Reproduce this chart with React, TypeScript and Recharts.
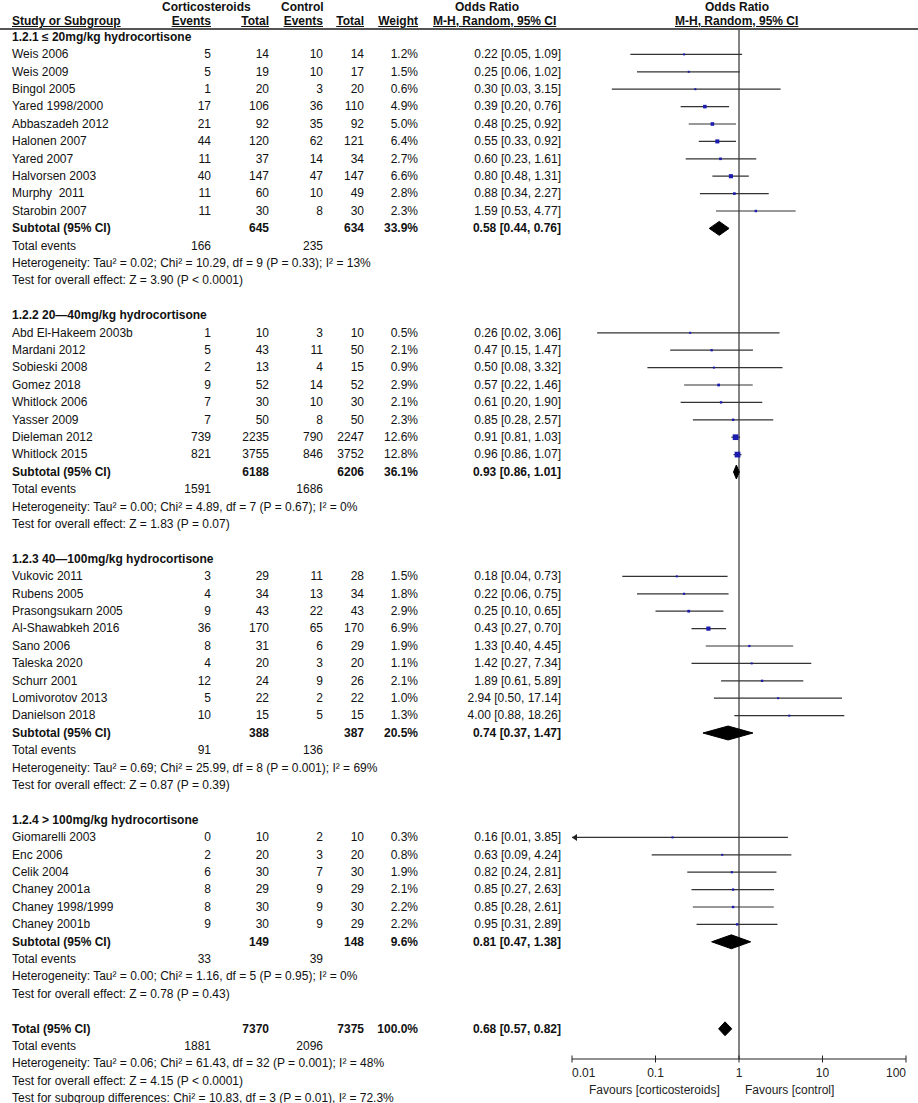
import React from 'react';
import { ComposedChart, Scatter, XAxis, YAxis, ErrorBar, ReferenceLine } from 'recharts';

const FONT = '"Liberation Sans", Arial, Helvetica, sans-serif';

// ---------- data ----------
const subgroupTitles = [
  '1.2.1 ≤ 20mg/kg hydrocortisone',
  '1.2.2 20—40mg/kg hydrocortisone',
  '1.2.3 40—100mg/kg hydrocortisone',
  '1.2.4 > 100mg/kg hydrocortisone',
];

const studyNames = [
  'Weis 2006', 'Weis 2009', 'Bingol 2005', 'Yared 1998/2000', 'Abbaszadeh 2012', 'Halonen 2007', 'Yared 2007', 'Halvorsen 2003', 'Murphy  2011', 'Starobin 2007',
  'Abd El-Hakeem 2003b', 'Mardani 2012', 'Sobieski 2008', 'Gomez 2018', 'Whitlock 2006', 'Yasser 2009', 'Dieleman 2012', 'Whitlock 2015',
  'Vukovic 2011', 'Rubens 2005', 'Prasongsukarn 2005', 'Al-Shawabkeh 2016', 'Sano 2006', 'Taleska 2020', 'Schurr 2001', 'Lomivorotov 2013', 'Danielson 2018',
  'Giomarelli 2003', 'Enc 2006', 'Celik 2004', 'Chaney 2001a', 'Chaney 1998/1999', 'Chaney 2001b',
];
const studyGroup = [
  0, 0, 0, 0, 0, 0, 0, 0, 0, 0,
  1, 1, 1, 1, 1, 1, 1, 1,
  2, 2, 2, 2, 2, 2, 2, 2, 2,
  3, 3, 3, 3, 3, 3,
];
const corticoEvents = [5, 5, 1, 17, 21, 44, 11, 40, 11, 11, 1, 5, 2, 9, 7, 7, 739, 821, 3, 4, 9, 36, 8, 4, 12, 5, 10, 0, 2, 6, 8, 8, 9];
const corticoTotals = [14, 19, 20, 106, 92, 120, 37, 147, 60, 30, 10, 43, 13, 52, 30, 50, 2235, 3755, 29, 34, 43, 170, 31, 20, 24, 22, 15, 10, 20, 30, 29, 30, 30];
const controlEvents = [10, 10, 3, 36, 35, 62, 14, 47, 10, 8, 3, 11, 4, 14, 10, 8, 790, 846, 11, 13, 22, 65, 6, 3, 9, 2, 5, 2, 3, 7, 9, 9, 9];
const controlTotals = [14, 17, 20, 110, 92, 121, 34, 147, 49, 30, 10, 50, 15, 52, 30, 50, 2247, 3752, 28, 34, 43, 170, 29, 20, 26, 22, 15, 10, 20, 30, 29, 30, 29];
const weights = [1.2, 1.5, 0.6, 4.9, 5.0, 6.4, 2.7, 6.6, 2.8, 2.3, 0.5, 2.1, 0.9, 2.9, 2.1, 2.3, 12.6, 12.8, 1.5, 1.8, 2.9, 6.9, 1.9, 1.1, 2.1, 1.0, 1.3, 0.3, 0.8, 1.9, 2.1, 2.2, 2.2];
const oddsRatios = [0.22, 0.25, 0.30, 0.39, 0.48, 0.55, 0.60, 0.80, 0.88, 1.59, 0.26, 0.47, 0.50, 0.57, 0.61, 0.85, 0.91, 0.96, 0.18, 0.22, 0.25, 0.43, 1.33, 1.42, 1.89, 2.94, 4.00, 0.16, 0.63, 0.82, 0.85, 0.85, 0.95];
const ciLower = [0.05, 0.06, 0.03, 0.20, 0.25, 0.33, 0.23, 0.48, 0.34, 0.53, 0.02, 0.15, 0.08, 0.22, 0.20, 0.28, 0.81, 0.86, 0.04, 0.06, 0.10, 0.27, 0.40, 0.27, 0.61, 0.50, 0.88, 0.01, 0.09, 0.24, 0.27, 0.28, 0.31];
const ciUpper = [1.09, 1.02, 3.15, 0.76, 0.92, 0.92, 1.61, 1.31, 2.27, 4.77, 3.06, 1.47, 3.32, 1.46, 1.90, 2.57, 1.03, 1.07, 0.73, 0.75, 0.65, 0.70, 4.45, 7.34, 5.89, 17.14, 18.26, 3.85, 4.24, 2.81, 2.63, 2.61, 2.89];

const subCorticoTotals = [645, 6188, 388, 149];
const subControlTotals = [634, 6206, 387, 148];
const subWeights = [33.9, 36.1, 20.5, 9.6];
const subOddsRatios = [0.58, 0.93, 0.74, 0.81];
const subLower = [0.44, 0.86, 0.37, 0.47];
const subUpper = [0.76, 1.01, 1.47, 1.38];
const subCorticoEvents = [166, 1591, 91, 33];
const subControlEvents = [235, 1686, 136, 39];
const subHeterogeneity = [
  'Heterogeneity: Tau² = 0.02; Chi² = 10.29, df = 9 (P = 0.33); I² = 13%',
  'Heterogeneity: Tau² = 0.00; Chi² = 4.89, df = 7 (P = 0.67); I² = 0%',
  'Heterogeneity: Tau² = 0.69; Chi² = 25.99, df = 8 (P = 0.001); I² = 69%',
  'Heterogeneity: Tau² = 0.00; Chi² = 1.16, df = 5 (P = 0.95); I² = 0%',
];
const subOverallTests = [
  'Test for overall effect: Z = 3.90 (P < 0.0001)',
  'Test for overall effect: Z = 1.83 (P = 0.07)',
  'Test for overall effect: Z = 0.87 (P = 0.39)',
  'Test for overall effect: Z = 0.78 (P = 0.43)',
];

const totalCortico = 7370;
const totalControl = 7375;
const totalWeight = 100.0;
const totalOR = [0.68, 0.57, 0.82];
const totalEvents = [1881, 2096];
const totalFootnotes = [
  'Heterogeneity: Tau² = 0.06; Chi² = 61.43, df = 32 (P = 0.001); I² = 48%',
  'Test for overall effect: Z = 4.15 (P < 0.0001)',
  'Test for subgroup differences: Chi² = 10.83, df = 3 (P = 0.01), I² = 72.3%',
];

const axisTicks = [0.01, 0.1, 1, 10, 100];
const favoursLabels = ['Favours [corticosteroids]', 'Favours [control]'];

// ---------- layout ----------
const W = 918;
const H = 1103;
const ROW_H = 17.4;
const ROW0_Y = 37;
const PLOT_TOP = 28;
const PLOT_BOTTOM = 1059;
const PLOT_LEFT = 572;
const PLOT_RIGHT = 906;
const Y_DOMAIN: [number, number] = [(PLOT_TOP - ROW0_Y) / ROW_H, (PLOT_BOTTOM - ROW0_Y) / ROW_H];
const AXIS_MIN = axisTicks[0];
const AXIS_MAX = axisTicks[axisTicks.length - 1];
const DIAMOND_HALF = 0.4;

const COL = { name: 12, ce: 211, ct: 269, ne: 323, nt: 364, w: 418, or: 561 };

type Cell = { text: string; x: number; align: 'left' | 'right'; bold?: boolean; underline?: boolean };
type TextLine = { y: number; cells: Cell[] };

const fmtOR = (o: number, l: number, h: number) => `${o.toFixed(2)} [${l.toFixed(2)}, ${h.toFixed(2)}]`;
const fmtW = (w: number) => `${w.toFixed(1)}%`;

const textLines: TextLine[] = [];
const studyPoints: any[] = [];
const arrowPoints: any[] = [];
const diamonds: any[][] = [];

const rowY = (r: number) => ROW0_Y + r * ROW_H;
const makeDiamond = (o: number, l: number, h: number, r: number) => [
  { x: l, row: r },
  { x: o, row: r - DIAMOND_HALF },
  { x: h, row: r },
  { x: o, row: r + DIAMOND_HALF },
  { x: l, row: r },
];

(() => {
  let r = 0;
  subgroupTitles.forEach((title, g) => {
    textLines.push({ y: rowY(r), cells: [{ text: title, x: COL.name, align: 'left', bold: true }] });
    r++;
    studyNames.forEach((name, i) => {
      if (studyGroup[i] !== g) return;
      textLines.push({
        y: rowY(r),
        cells: [
          { text: name, x: COL.name, align: 'left' },
          { text: String(corticoEvents[i]), x: COL.ce, align: 'right' },
          { text: String(corticoTotals[i]), x: COL.ct, align: 'right' },
          { text: String(controlEvents[i]), x: COL.ne, align: 'right' },
          { text: String(controlTotals[i]), x: COL.nt, align: 'right' },
          { text: fmtW(weights[i]), x: COL.w, align: 'right' },
          { text: fmtOR(oddsRatios[i], ciLower[i], ciUpper[i]), x: COL.or, align: 'right' },
        ],
      });
      const lo = Math.max(ciLower[i], AXIS_MIN);
      studyPoints.push({ x: oddsRatios[i], row: r, err: [oddsRatios[i] - lo, ciUpper[i] - oddsRatios[i]], w: weights[i] });
      if (ciLower[i] <= AXIS_MIN) arrowPoints.push({ x: AXIS_MIN, row: r });
      r++;
    });
    textLines.push({
      y: rowY(r),
      cells: [
        { text: 'Subtotal (95% CI)', x: COL.name, align: 'left', bold: true },
        { text: String(subCorticoTotals[g]), x: COL.ct, align: 'right', bold: true },
        { text: String(subControlTotals[g]), x: COL.nt, align: 'right', bold: true },
        { text: fmtW(subWeights[g]), x: COL.w, align: 'right', bold: true },
        { text: fmtOR(subOddsRatios[g], subLower[g], subUpper[g]), x: COL.or, align: 'right', bold: true },
      ],
    });
    diamonds.push(makeDiamond(subOddsRatios[g], subLower[g], subUpper[g], r));
    r++;
    textLines.push({
      y: rowY(r),
      cells: [
        { text: 'Total events', x: COL.name, align: 'left' },
        { text: String(subCorticoEvents[g]), x: COL.ce, align: 'right' },
        { text: String(subControlEvents[g]), x: COL.ne, align: 'right' },
      ],
    });
    r++;
    textLines.push({ y: rowY(r), cells: [{ text: subHeterogeneity[g], x: COL.name, align: 'left' }] });
    r++;
    textLines.push({ y: rowY(r), cells: [{ text: subOverallTests[g], x: COL.name, align: 'left' }] });
    r++;
    r++;
  });
  textLines.push({
    y: rowY(r),
    cells: [
      { text: 'Total (95% CI)', x: COL.name, align: 'left', bold: true },
      { text: String(totalCortico), x: COL.ct, align: 'right', bold: true },
      { text: String(totalControl), x: COL.nt, align: 'right', bold: true },
      { text: fmtW(totalWeight), x: COL.w, align: 'right', bold: true },
      { text: fmtOR(totalOR[0], totalOR[1], totalOR[2]), x: COL.or, align: 'right', bold: true },
    ],
  });
  diamonds.push(makeDiamond(totalOR[0], totalOR[1], totalOR[2], r));
  r++;
  textLines.push({
    y: rowY(r),
    cells: [
      { text: 'Total events', x: COL.name, align: 'left' },
      { text: String(totalEvents[0]), x: COL.ce, align: 'right' },
      { text: String(totalEvents[1]), x: COL.ne, align: 'right' },
    ],
  });
  r++;
  totalFootnotes.forEach((t) => {
    textLines.push({ y: rowY(r), cells: [{ text: t, x: COL.name, align: 'left' }] });
    r++;
  });
})();

const headerLines: TextLine[] = [
  {
    y: 7,
    cells: [
      { text: 'Corticosteroids', x: 162, align: 'left', bold: true },
      { text: 'Control', x: 281, align: 'left', bold: true },
      { text: 'Odds Ratio', x: 455, align: 'left', bold: true },
      { text: 'Odds Ratio', x: 705, align: 'left', bold: true },
    ],
  },
  {
    y: 21,
    cells: [
      { text: 'Study or Subgroup', x: COL.name, align: 'left', bold: true, underline: true },
      { text: 'Events', x: COL.ce, align: 'right', bold: true, underline: true },
      { text: 'Total', x: COL.ct, align: 'right', bold: true, underline: true },
      { text: 'Events', x: COL.ne, align: 'right', bold: true, underline: true },
      { text: 'Total', x: COL.nt, align: 'right', bold: true, underline: true },
      { text: 'Weight', x: COL.w, align: 'right', bold: true, underline: true },
      { text: 'M-H, Random, 95% CI', x: 433, align: 'left', bold: true, underline: true },
      { text: 'M-H, Random, 95% CI', x: 675, align: 'left', bold: true, underline: true },
    ],
  },
];

// ---------- rendering ----------
const StudySquare = (props: any) => {
  const { cx, cy, payload } = props;
  if (cx == null || cy == null) return <g />;
  const s = Math.max(2, 1.6 * Math.sqrt(payload.w));
  return <rect x={cx - s / 2} y={cy - s / 2} width={s} height={s} fill="#1c1cae" />;
};

const ArrowShape = (props: any) => {
  const { cx, cy } = props;
  if (cx == null || cy == null) return <g />;
  return <polygon points={`${cx},${cy} ${cx + 5},${cy - 3.5} ${cx + 5},${cy + 3.5}`} fill="#222" />;
};

const NoShape = () => <g />;

const AxisTick = (props: any) => {
  const { x, y, payload } = props;
  const v = payload.value;
  const anchor = v === AXIS_MIN ? 'start' : v === AXIS_MAX ? 'end' : 'middle';
  return (
    <g>
      <line x1={x} x2={x} y1={y - 3.5} y2={y + 3.5} stroke="#222" strokeWidth={1} />
      <text x={x} y={y + 18} textAnchor={anchor} fontSize={12} fontFamily={FONT} fill="#222">
        {String(v)}
      </text>
    </g>
  );
};

const renderLine = (line: TextLine, key: string) => (
  <React.Fragment key={key}>
    {line.cells.map((c, j) => {
      const base: React.CSSProperties = {
        position: 'absolute',
        top: line.y - 8.2,
        height: ROW_H,
        lineHeight: `${ROW_H}px`,
        whiteSpace: 'pre',
        fontWeight: c.bold ? 'bold' : 'normal',
        textDecoration: c.underline ? 'underline' : 'none',
      };
      const style: React.CSSProperties =
        c.align === 'left'
          ? { ...base, left: c.x }
          : { ...base, left: c.x - 300, width: 300, textAlign: 'right' };
      return (
        <div key={j} style={style}>
          {c.text}
        </div>
      );
    })}
  </React.Fragment>
);

export default function App() {
  return (
    <div
      style={{
        position: 'absolute',
        left: 0,
        top: 0,
        width: W,
        height: H,
        background: '#fff',
        fontFamily: FONT,
        fontSize: 12,
        color: '#111',
        overflow: 'hidden',
      }}
    >
      <div style={{ position: 'absolute', left: 0, top: 0 }}>
        <ComposedChart
          width={W}
          height={H}
          margin={{ top: PLOT_TOP, right: W - PLOT_RIGHT, bottom: H - PLOT_BOTTOM - 30, left: PLOT_LEFT }}
        >
          <XAxis
            type="number"
            dataKey="x"
            scale="log"
            domain={[AXIS_MIN, AXIS_MAX]}
            allowDataOverflow
            ticks={axisTicks}
            interval={0}
            height={30}
            tickLine={false}
            tickSize={0}
            tickMargin={0}
            axisLine={{ stroke: '#222', strokeWidth: 1 }}
            tick={AxisTick}
          />
          <YAxis type="number" dataKey="row" domain={Y_DOMAIN} reversed hide allowDataOverflow />
          <ReferenceLine x={1} stroke="#5a5a5a" strokeWidth={1.5} />
          <Scatter data={studyPoints} shape={StudySquare} isAnimationActive={false} legendType="none">
            <ErrorBar dataKey="err" direction="x" width={0} stroke="#333" strokeWidth={1.2} isAnimationActive={false} />
          </Scatter>
          <Scatter data={arrowPoints} shape={ArrowShape} isAnimationActive={false} legendType="none" />
          {diamonds.map((d, i) => (
            <Scatter
              key={`diamond-${i}`}
              data={d}
              shape={NoShape}
              line={{ fill: '#000', stroke: '#000', strokeWidth: 1 }}
              lineJointType="linear"
              isAnimationActive={false}
              legendType="none"
            />
          ))}
        </ComposedChart>
      </div>
      <div style={{ position: 'absolute', left: 0, top: 28, width: W, height: 2, background: '#555' }} />
      {headerLines.map((l, i) => renderLine(l, `h${i}`))}
      {textLines.map((l, i) => renderLine(l, `t${i}`))}
      <div style={{ position: 'absolute', left: 589, top: 1090 - 8.2, lineHeight: `${ROW_H}px`, whiteSpace: 'nowrap', color: '#222' }}>
        {favoursLabels[0]}
      </div>
      <div style={{ position: 'absolute', left: 745, top: 1090 - 8.2, lineHeight: `${ROW_H}px`, whiteSpace: 'nowrap', color: '#222' }}>
        {favoursLabels[1]}
      </div>
    </div>
  );
}
